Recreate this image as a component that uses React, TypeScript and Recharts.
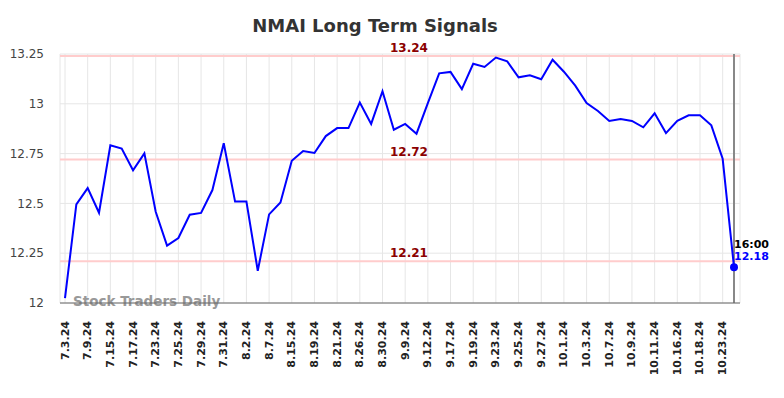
import {
  LineChart,
  Line,
  XAxis,
  YAxis,
  CartesianGrid,
  ReferenceLine,
  Customized,
} from 'recharts'

const dates = [
  '7.3.24', '7.5.24', '7.9.24', '7.12.24', '7.15.24', '7.16.24', '7.17.24', '7.22.24', '7.23.24', '7.24.24',
  '7.25.24', '7.26.24', '7.29.24', '7.30.24', '7.31.24', '8.1.24', '8.2.24', '8.6.24', '8.7.24', '8.14.24',
  '8.15.24', '8.16.24', '8.19.24', '8.20.24', '8.21.24', '8.22.24', '8.26.24', '8.28.24', '8.30.24', '9.5.24',
  '9.9.24', '9.11.24', '9.12.24', '9.16.24', '9.17.24', '9.18.24', '9.19.24', '9.20.24', '9.23.24', '9.24.24',
  '9.25.24', '9.26.24', '9.27.24', '9.30.24', '10.1.24', '10.2.24', '10.3.24', '10.4.24', '10.7.24', '10.8.24',
  '10.9.24', '10.10.24', '10.11.24', '10.15.24', '10.16.24', '10.17.24', '10.18.24', '10.22.24', '10.23.24', '10.24.24',
]

const prices = [
  12.024, 12.495, 12.577, 12.453, 12.792, 12.775, 12.666, 12.751, 12.458, 12.288,
  12.326, 12.443, 12.452, 12.567, 12.802, 12.509, 12.509, 12.162, 12.445, 12.505,
  12.714, 12.763, 12.753, 12.838, 12.878, 12.878, 13.006, 12.899, 13.063, 12.87,
  12.899, 12.85, 13.003, 13.153, 13.16, 13.074, 13.201, 13.185, 13.232, 13.213,
  13.133, 13.143, 13.123, 13.221, 13.161, 13.091, 13.004, 12.964, 12.914, 12.924,
  12.914, 12.882, 12.952, 12.853, 12.914, 12.942, 12.942, 12.892, 12.724, 12.18,
]

const yTicks = [12, 12.25, 12.5, 12.75, 13, 13.25]
const signalLevels = [13.24, 12.72, 12.21]
const lastTime = '16:00'
const title = 'NMAI Long Term Signals'
const watermark = 'Stock Traders Daily'

const FONT = '"DejaVu Sans", sans-serif'

const data = dates.map((d, i) => ({ date: d, price: prices[i] }))
const xTicks = dates.filter((_, i) => i % 2 === 0)
const lastIdx = data.length - 1

function DateTick({ x, y, payload }: any) {
  return (
    <text
      x={x}
      y={y}
      transform={`rotate(-90, ${x}, ${y})`}
      textAnchor="end"
      dominantBaseline="central"
      fontFamily={FONT}
      fontSize={11}
      fontWeight="bold"
      fill="#222"
    >
      {payload.value}
    </text>
  )
}

function LevelLabel({ viewBox, text }: any) {
  if (!viewBox) return null
  return (
    <text
      x={viewBox.x + viewBox.width / 2 + 9}
      y={viewBox.y - 4}
      textAnchor="middle"
      fontFamily={FONT}
      fontSize={12}
      fontWeight="bold"
      fill="#8b0000"
    >
      {text}
    </text>
  )
}

function LastDot(props: any) {
  const { cx, cy, index } = props
  if (index !== lastIdx) return <g key={`d${index}`} />
  return <circle key={`d${index}`} cx={cx} cy={cy} r={4} fill="#0000ff" stroke="none" />
}

function LastLabel(props: any) {
  const { x, y, index, value } = props
  if (index !== lastIdx) return null
  return (
    <g fontFamily={FONT} fontSize={11} fontWeight="bold">
      <text x={x} y={y - 19} fill="#000">{lastTime}</text>
      <text x={x} y={y - 7} fill="#0000ff">{Number(value).toFixed(2)}</text>
    </g>
  )
}

function Decorations() {
  return (
    <g fontFamily={FONT}>
      <text x={375} y={32} textAnchor="middle" fontSize={18} fontWeight="bold" fill="#333">
        {title}
      </text>
      <text x={73} y={306} fontSize={13.5} fontWeight="bold" fill="#999">
        {watermark}
      </text>
    </g>
  )
}

export default function App() {
  return (
    <div style={{ position: 'absolute', left: 0, top: 0 }}>
      <LineChart width={784} height={398} data={data} margin={{ top: 54, right: 44, left: 0, bottom: 0 }}>
        <CartesianGrid stroke="#e6e6e6" strokeWidth={1} />
        <XAxis
          dataKey="date"
          ticks={xTicks}
          interval={0}
          height={95}
          padding={{ left: 5, right: 6 }}
          tick={<DateTick />}
          tickLine={false}
          tickMargin={12}
          axisLine={{ stroke: '#666', strokeWidth: 1 }}
        />
        <YAxis
          domain={[12, 13.25]}
          ticks={yTicks}
          width={60}
          axisLine={false}
          tickLine={false}
          tickMargin={10}
          tick={{ fontFamily: FONT, fontSize: 12, fill: '#444' }}
        />
        {signalLevels.map((v) => (
          <ReferenceLine
            key={v}
            y={v}
            stroke="#ffcccc"
            strokeWidth={2}
            label={<LevelLabel text={v.toFixed(2)} />}
          />
        ))}
        <ReferenceLine x={dates[lastIdx]} stroke="#888" strokeWidth={2} />
        <Line
          type="linear"
          dataKey="price"
          stroke="#0000ff"
          strokeWidth={2}
          dot={LastDot}
          activeDot={false}
          label={LastLabel}
          isAnimationActive={false}
        />
        <Customized component={Decorations} />
      </LineChart>
    </div>
  )
}
